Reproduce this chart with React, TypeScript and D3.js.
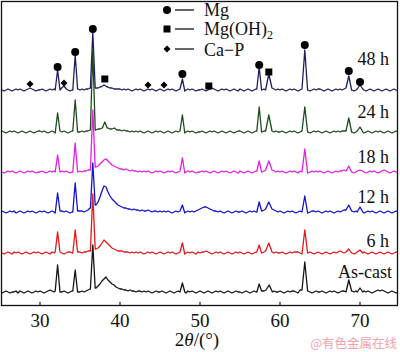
import React from "react";
import * as d3 from "d3";

const W = 400;
const H = 352;

// x axis (2θ, degrees)
const xDomain: [number, number] = [25, 75];
const xTicks = [30, 40, 50, 60, 70];

// background strings: one base-36 char per 0.25° step, from 25° to 75°
const step = 0.25;

const labels = ["As-cast", "6 h", "12 h", "18 h", "24 h", "48 h"];
const colors = ["#141414", "#e31818", "#1212cf", "#e21fe2", "#1d4b1d", "#1f1f5c"];
const offsets = [12, 51, 92, 132, 172, 214];

const bgAsCast = [
  "10121011202101210121", "21012321221121012221", "12123433579cegdb9865", "44332322122121210121",
  "12101210121210212101", "21012101212101210121", "10121012121223431211", "21012122103312210121",
  "12101212101221232121", "21212101232321012101", "1",
].join("");
const bg6h = [
  "21012102121012101212", "10121021212101221212", "21223344568beca86543", "33222121212101212101",
  "21012121012101212102", "12232101212101210121", "21012101212123542121", "12101212221012121012",
  "10121012123212121012", "21210121012101210121", "1",
].join("");
const bg12h = [
  "12101212012101212101", "21210121012212101212", "221235468bgmrqlheca8", "76554434332322321221",
  "21212101212101212123", "45665432212101210121", "12101212121234654321", "21012121012121012212",
  "10121210121233212121", "21012121012101210121", "1",
].join("");
const bg18h = [
  "21012121012101212101", "12101212101212101221", "21223345679bdeca8765", "44343232212121210121",
  "21012121012101212101", "12121012101212101210", "21012101212123443212", "12101212102121012121",
  "21012101212232121012", "12101212101232101210", "1",
].join("");
const bg24h = [
  "12101212101210121012", "21210121012121012121", "12122333344566544433", "32322121212101210121",
  "21012101212101212101", "12101212101210121012", "21012101212122332121", "12101212101212101212",
  "10121012121222121012", "21012101212101210121", "1",
].join("");
const bg48h = [
  "21012101212101232101", "12101212101312101212", "12122333334445433222", "21212101212101212101",
  "21012121012101212101", "12101232101212101210", "21012101212121233212", "12101212101212101212",
  "21012101212123221012", "12101210121012101210", "1",
].join("");

// peaks [2θ, height above baseline, half width at the foot (°)]
const pkAsCast = [[32.2, 28, 0.3], [34.4, 23, 0.3], [36.6, 48, 0.3], [47.8, 10, 0.3], [57.4, 9, 0.3], [58.65, 8, 0.4], [63.1, 31, 0.35], [68.6, 13, 0.35], [70.0, 5, 0.35]];
const pk6h = [[32.2, 22, 0.3], [34.4, 24, 0.3], [36.6, 60, 0.3], [47.8, 11, 0.3], [57.4, 9, 0.3], [58.6, 11, 0.4], [63.1, 24, 0.35], [68.6, 5, 0.35], [70.0, 4, 0.35]];
const pk12h = [[32.2, 20, 0.3], [34.4, 30, 0.3], [36.6, 50, 0.3], [47.8, 8, 0.3], [57.4, 11, 0.3], [58.6, 11, 0.4], [63.1, 17, 0.35], [68.6, 8, 0.35], [70.0, 6, 0.35]];
const pk18h = [[32.2, 18, 0.3], [34.4, 30, 0.3], [36.6, 63, 0.3], [47.8, 15, 0.3], [57.4, 12, 0.3], [58.6, 12, 0.4], [63.1, 24, 0.35], [68.6, 7, 0.35], [70.0, 3, 0.35]];
const pk24h = [[32.2, 20, 0.3], [34.4, 33, 0.3], [36.6, 83, 0.3], [38.1, 11, 0.3], [39.3, 5, 0.3], [47.8, 18, 0.3], [57.4, 26, 0.3], [58.6, 18, 0.4], [63.1, 26, 0.35], [68.6, 15, 0.35], [70.0, 6, 0.35]];
const pk48h = [[32.2, 21, 0.3], [33.0, 5, 0.3], [34.4, 36, 0.3], [36.6, 59, 0.3], [38.0, 6, 0.4], [47.8, 12, 0.3], [57.4, 24, 0.3], [58.6, 17, 0.4], [63.1, 41, 0.35], [68.6, 15, 0.35], [70.0, 6, 0.35]];

const backgrounds = [bgAsCast, bg6h, bg12h, bg18h, bg24h, bg48h];
const peaks = [pkAsCast, pk6h, pk12h, pk18h, pk24h, pk48h];

// phase markers over the 48 h pattern [2θ, level above its baseline]
const mgMarks = [[32.2, 24], [34.4, 39], [36.6, 62], [47.8, 17], [57.4, 26], [63.1, 46], [68.6, 20], [70.0, 9]];
const ohMarks = [[38.1, 12], [51.1, 5], [58.6, 19]];
const capMarks = [[28.75, 7], [33.0, 8], [43.5, 6], [45.5, 6]];

const x = d3.scaleLinear().domain(xDomain).range([0, 400]);
const y = d3.scaleLinear().domain([0, 305]).range([305, 0]);

const frame = { left: 1.5, top: 1.5, right: 397.5, bottom: 305.5 };
const serif = "'Liberation Serif', 'Times New Roman', serif";

function buildSeries(bg: string, pk: number[][], offset: number): [number, number][] {
  const bgAt = (a: number) => {
    const i = Math.max(0, Math.min(bg.length - 1, Math.round((a - xDomain[0]) / step)));
    return parseInt(bg[i], 36);
  };
  const pts: [number, number][] = [];
  for (let i = 0; i < bg.length; i++) {
    const a = xDomain[0] + i * step;
    // skip background samples that fall under a peak
    if (pk.some(([c, , w]) => a > c - w && a < c + w)) continue;
    pts.push([a, offset + parseInt(bg[i], 36)]);
  }
  pk.forEach(([c, h, w]) => {
    pts.push([c - w, offset + bgAt(c - w)]);
    pts.push([c, offset + h]);
    pts.push([c + w, offset + bgAt(c + w)]);
  });
  pts.sort((p, q) => p[0] - q[0]);
  return pts;
}

const line = d3
  .line<[number, number]>()
  .x((d) => x(d[0]))
  .y((d) => y(d[1]));

const labelY = [278, 247, 203, 163, 118, 65];

export default function App() {
  const top = offsets[5];
  const diamond = (cx: number, cy: number, r: number) =>
    `M${cx},${cy - r}L${cx + r},${cy}L${cx},${cy + r}L${cx - r},${cy}Z`;

  return (
    <svg
      width={W}
      height={H}
      style={{ position: "absolute", left: 0, top: 0, background: "#fff" }}
      fontFamily={serif}
    >
      <defs>
        <clipPath id="plot">
          <rect x={frame.left} y={frame.top} width={frame.right - frame.left} height={frame.bottom - frame.top} />
        </clipPath>
      </defs>

      {/* patterns, top one first so lower ones sit over the big 36.6° spikes */}
      <g clipPath="url(#plot)" fill="none" strokeWidth={1.3} strokeLinejoin="round">
        {[5, 4, 3, 2, 1, 0].map((k) => (
          <path key={k} d={line(buildSeries(backgrounds[k], peaks[k], offsets[k])) || ""} stroke={colors[k]} />
        ))}
      </g>

      {/* markers */}
      <g fill="#000">
        {mgMarks.map(([a, l], i) => (
          <circle key={"c" + i} cx={x(a)} cy={y(top + l)} r={4} />
        ))}
        {ohMarks.map(([a, l], i) => (
          <rect key={"s" + i} x={x(a) - 3.5} y={y(top + l) - 3.5} width={7} height={7} />
        ))}
        {capMarks.map(([a, l], i) => (
          <path key={"d" + i} d={diamond(x(a), y(top + l), 3.5)} />
        ))}
      </g>

      {/* labels */}
      {labels.map((t, k) => (
        <text key={t} x={k === 0 ? 392 : 389} y={labelY[k]} fontSize={18} textAnchor="end" fill="#111">
          {t}
        </text>
      ))}

      {/* legend */}
      <g fill="#000" stroke="none">
        <circle cx={167} cy={10} r={4} />
        <rect x={163.5} y={25.5} width={7} height={7} />
        <path d={diamond(167, 49, 3.5)} />
        {[10, 29, 49].map((yy) => (
          <line key={yy} x1={175} x2={194} y1={yy} y2={yy} stroke="#000" strokeWidth={1.2} />
        ))}
        <text x={204} y={16} fontSize={18} fill="#111">Mg</text>
        <text x={204} y={35} fontSize={18} fill="#111">
          Mg(OH)<tspan fontSize={12} dy={4}>2</tspan>
        </text>
        <text x={204} y={56} fontSize={18} fill="#111">Ca−P</text>
      </g>

      {/* frame and ticks */}
      <rect
        x={frame.left}
        y={frame.top}
        width={frame.right - frame.left}
        height={frame.bottom - frame.top}
        fill="none"
        stroke="#111"
        strokeWidth={1.3}
      />
      {xTicks.map((t) => (
        <g key={t}>
          <line x1={x(t)} x2={x(t)} y1={frame.bottom} y2={frame.bottom - 3.5} stroke="#111" strokeWidth={1.2} />
          <text x={x(t)} y={327} fontSize={19} textAnchor="middle" fill="#111">
            {t}
          </text>
        </g>
      ))}
      <text x={197} y={346} fontSize={19} textAnchor="middle" fill="#111">
        2<tspan fontStyle="italic">θ</tspan>/(°)
      </text>

      <text x={397} y={348} fontSize={12.5} textAnchor="end" fill="#f2a3ab" fontFamily="'Noto Sans CJK SC', sans-serif">
        @有色金属在线
      </text>
    </svg>
  );
}
